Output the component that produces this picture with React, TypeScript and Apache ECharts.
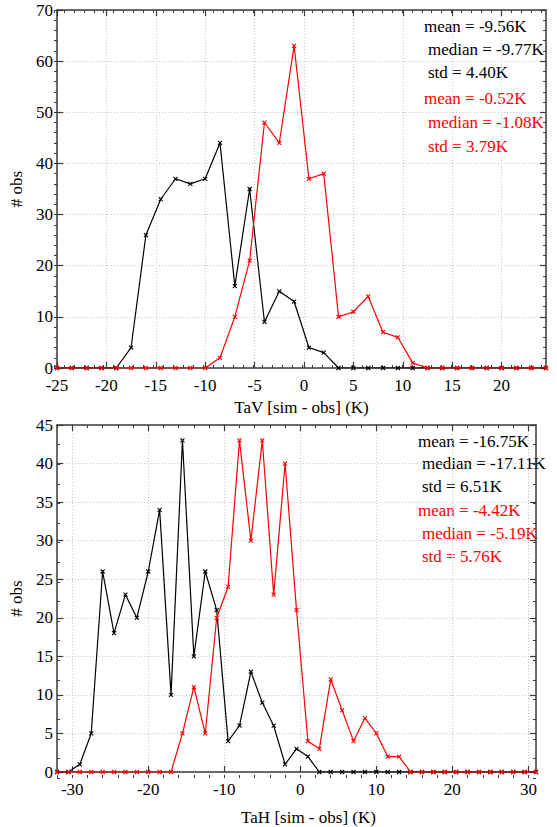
import React, { useEffect, useRef } from 'react';
import * as echarts from 'echarts';

// ---------- Data ----------
const tavBins = [-25, -23.5, -22, -20.5, -19, -17.5, -16, -14.5, -13, -11.5, -10, -8.5, -7, -5.5, -4, -2.5, -1, 0.5, 2, 3.5, 5, 6.5, 8, 9.5, 11, 12.5, 14, 15.5, 17, 18.5, 20, 21.5, 23, 24.5];
const tavBlack = [0, 0, 0, 0, 0, 4, 26, 33, 37, 36, 37, 44, 16, 35, 9, 15, 13, 4, 3, 0, 0, 0, 0, 0, 0, 0, 0, 0, 0, 0, 0, 0, 0, 0];
const tavRed = [0, 0, 0, 0, 0, 0, 0, 0, 0, 0, 0, 2, 10, 21, 48, 44, 63, 37, 38, 10, 11, 14, 7, 6, 1, 0, 0, 0, 0, 0, 0, 0, 0, 0];

const tahBins = [-32, -30.5, -29, -27.5, -26, -24.5, -23, -21.5, -20, -18.5, -17, -15.5, -14, -12.5, -11, -9.5, -8, -6.5, -5, -3.5, -2, -0.5, 1, 2.5, 4, 5.5, 7, 8.5, 10, 11.5, 13, 14.5, 16, 17.5, 19, 20.5, 22, 23.5, 25, 26.5, 28, 29.5, 31];
const tahBlack = [0, 0, 1, 5, 26, 18, 23, 20, 26, 34, 10, 43, 15, 26, 21, 4, 6, 13, 9, 6, 1, 3, 2, 0, 0, 0, 0, 0, 0, 0, 0, 0, 0, 0, 0, 0, 0, 0, 0, 0, 0, 0, 0];
const tahRed = [0, 0, 0, 0, 0, 0, 0, 0, 0, 0, 0, 5, 11, 5, 20, 24, 43, 30, 43, 23, 40, 21, 4, 3, 12, 8, 4, 7, 5, 2, 2, 0, 0, 0, 0, 0, 0, 0, 0, 0, 0, 0, 0];

const tavXTicks = [-25, -20, -15, -10, -5, 0, 5, 10, 15, 20];
const tavYTicks = [0, 10, 20, 30, 40, 50, 60, 70];
const tahXTicks = [-30, -20, -10, 0, 10, 20, 30];
const tahYTicks = [0, 5, 10, 15, 20, 25, 30, 35, 40, 45];

const tavStatsBlack = ['mean = -9.56K', 'median = -9.77K', 'std = 4.40K'];
const tavStatsRed = ['mean = -0.52K', 'median = -1.08K', 'std = 3.79K'];
const tahStatsBlack = ['mean = -16.75K', 'median = -17.11K', 'std = 6.51K'];
const tahStatsRed = ['mean = -4.42K', 'median = -5.19K', 'std = 5.76K'];

// ---------- Styling ----------
const FONT = 'Liberation Serif';
const AX = '#3a3a3a';
const CROSS = 'path://M0,0L10,10M10,0L0,10';

function steps(min: number, max: number, step: number): number[] {
  const out: number[] = [];
  for (let v = Math.ceil(min / step) * step; v <= max + 1e-9; v += step) out.push(+v.toFixed(4));
  return out;
}

function axisPair(
  dim: 'x' | 'y',
  gridIndex: number,
  min: number,
  max: number,
  majors: number[],
  name: string,
  nameGap: number,
  namePad: number[],
) {
  const main: any = {
    type: 'value',
    gridIndex,
    position: dim === 'x' ? 'bottom' : 'left',
    min,
    max,
    axisLine: { show: true, onZero: false, lineStyle: { color: AX, width: 1.5 } },
    axisTick: { show: true, inside: true, length: 6, customValues: majors, lineStyle: { color: AX, width: 1.2 } },
    axisLabel: {
      show: true,
      customValues: majors,
      color: '#000',
      fontFamily: FONT,
      fontSize: 17,
      margin: dim === 'x' ? 9 : 4,
    },
    splitLine: { show: true, lineStyle: { color: '#c4c4c4', type: [1, 2], width: 1 } },
    name,
    nameLocation: 'middle',
    nameGap,
    nameRotate: dim === 'y' ? 90 : 0,
    nameTextStyle: { color: '#000', fontFamily: FONT, fontSize: 17, padding: namePad },
  };
  const mirror: any = {
    type: 'value',
    gridIndex,
    position: dim === 'x' ? 'top' : 'right',
    min,
    max,
    axisLine: { show: true, onZero: false, lineStyle: { color: AX, width: 1.5 } },
    axisTick: { show: true, inside: true, length: 6, customValues: majors, lineStyle: { color: AX, width: 1.2 } },
    axisLabel: { show: false },
    splitLine: { show: false },
  };
  return [main, mirror];
}

function minorPair(dim: 'x' | 'y', gridIndex: number, min: number, max: number, minors: number[]) {
  const base = (position: string): any => ({
    type: 'value',
    gridIndex,
    position,
    min,
    max,
    axisLine: { show: false, onZero: false },
    axisTick: { show: true, inside: true, length: 3, customValues: minors, lineStyle: { color: AX, width: 1 } },
    axisLabel: { show: false },
    splitLine: { show: false },
  });
  return dim === 'x' ? [base('bottom'), base('top')] : [base('left'), base('right')];
}

function lineSeries(xi: number, bins: number[], vals: number[], color: string, z: number) {
  return {
    type: 'line',
    xAxisIndex: xi,
    yAxisIndex: xi,
    data: bins.map((x, i) => [x, vals[i]]),
    symbol: CROSS,
    symbolSize: 4,
    showAllSymbol: true,
    lineStyle: { color, width: 1.2 },
    itemStyle: { color, borderColor: color, borderWidth: 1.1 },
    silent: true,
    z,
  };
}

function statTexts(lines: string[], color: string, x0: number, x1: number, ys: number[]) {
  return lines.map((t, i) => ({
    type: 'text',
    x: i === 0 ? x0 : x1,
    y: ys[i],
    silent: true,
    style: {
      text: t,
      fill: color,
      fontFamily: FONT,
      fontSize: 17,
      verticalAlign: 'middle',
      textVerticalAlign: 'middle',
    },
  }));
}

export default function App() {
  const ref = useRef<HTMLDivElement>(null);

  useEffect(() => {
    if (!ref.current) return;
    const chart = echarts.init(ref.current, undefined, { renderer: 'svg' });

    const g0 = { left: 54, top: 10, width: 492, height: 358 };
    const g1 = { left: 57, top: 425, width: 479, height: 353 };

    const tavMin = -25, tavMax = 24.5, tahMin = -32, tahMax = 31;

    const xAxis = [
      ...axisPair('x', 0, tavMin, tavMax, tavXTicks, 'TaV [sim - obs] (K)', 31, [0, 0, 0, 0]),
      ...minorPair('x', 1, tavMin, tavMax, steps(tavMin, tavMax, 1)),
      ...axisPair('x', 2, tahMin, tahMax, tahXTicks, 'TaH [sim - obs] (K)', 37, [0, 0, 0, 24]),
      ...minorPair('x', 3, tahMin, tahMax, steps(tahMin, tahMax, 2)),
    ];
    const yAxis = [
      ...axisPair('y', 0, 0, 70, tavYTicks, '# obs', 32, [0, 0, 0, 0]),
      ...minorPair('y', 1, 0, 70, steps(0, 70, 2)),
      ...axisPair('y', 2, 0, 45, tahYTicks, '# obs', 32, [0, 0, 0, 0]),
      ...minorPair('y', 3, 0, 45, steps(0, 45, 2.5)),
    ];

    chart.setOption({
      animation: false,
      backgroundColor: '#ffffff',
      textStyle: { fontFamily: FONT },
      grid: [
        { ...g0, containLabel: false },
        { ...g0, containLabel: false },
        { ...g1, containLabel: false },
        { ...g1, containLabel: false },
      ],
      xAxis,
      yAxis,
      series: [
        lineSeries(0, tavBins, tavBlack, '#000000', 2),
        lineSeries(0, tavBins, tavRed, '#ff0000', 3),
        lineSeries(4, tahBins, tahBlack, '#000000', 2),
        lineSeries(4, tahBins, tahRed, '#ff0000', 3),
      ],
      graphic: [
        ...statTexts(tavStatsBlack, '#000000', 424, 428, [26, 49, 72]),
        ...statTexts(tavStatsRed, '#ff0000', 424, 428, [98, 122, 146]),
        ...statTexts(tahStatsBlack, '#000000', 418, 422, [441, 463, 486]),
        ...statTexts(tahStatsRed, '#ff0000', 418, 422, [510, 533, 556]),
      ],
    });

    return () => chart.dispose();
  }, []);

  return (
    <div
      ref={ref}
      style={{ position: 'absolute', left: 0, top: 0, width: 557, height: 827, background: '#fff' }}
    />
  );
}
